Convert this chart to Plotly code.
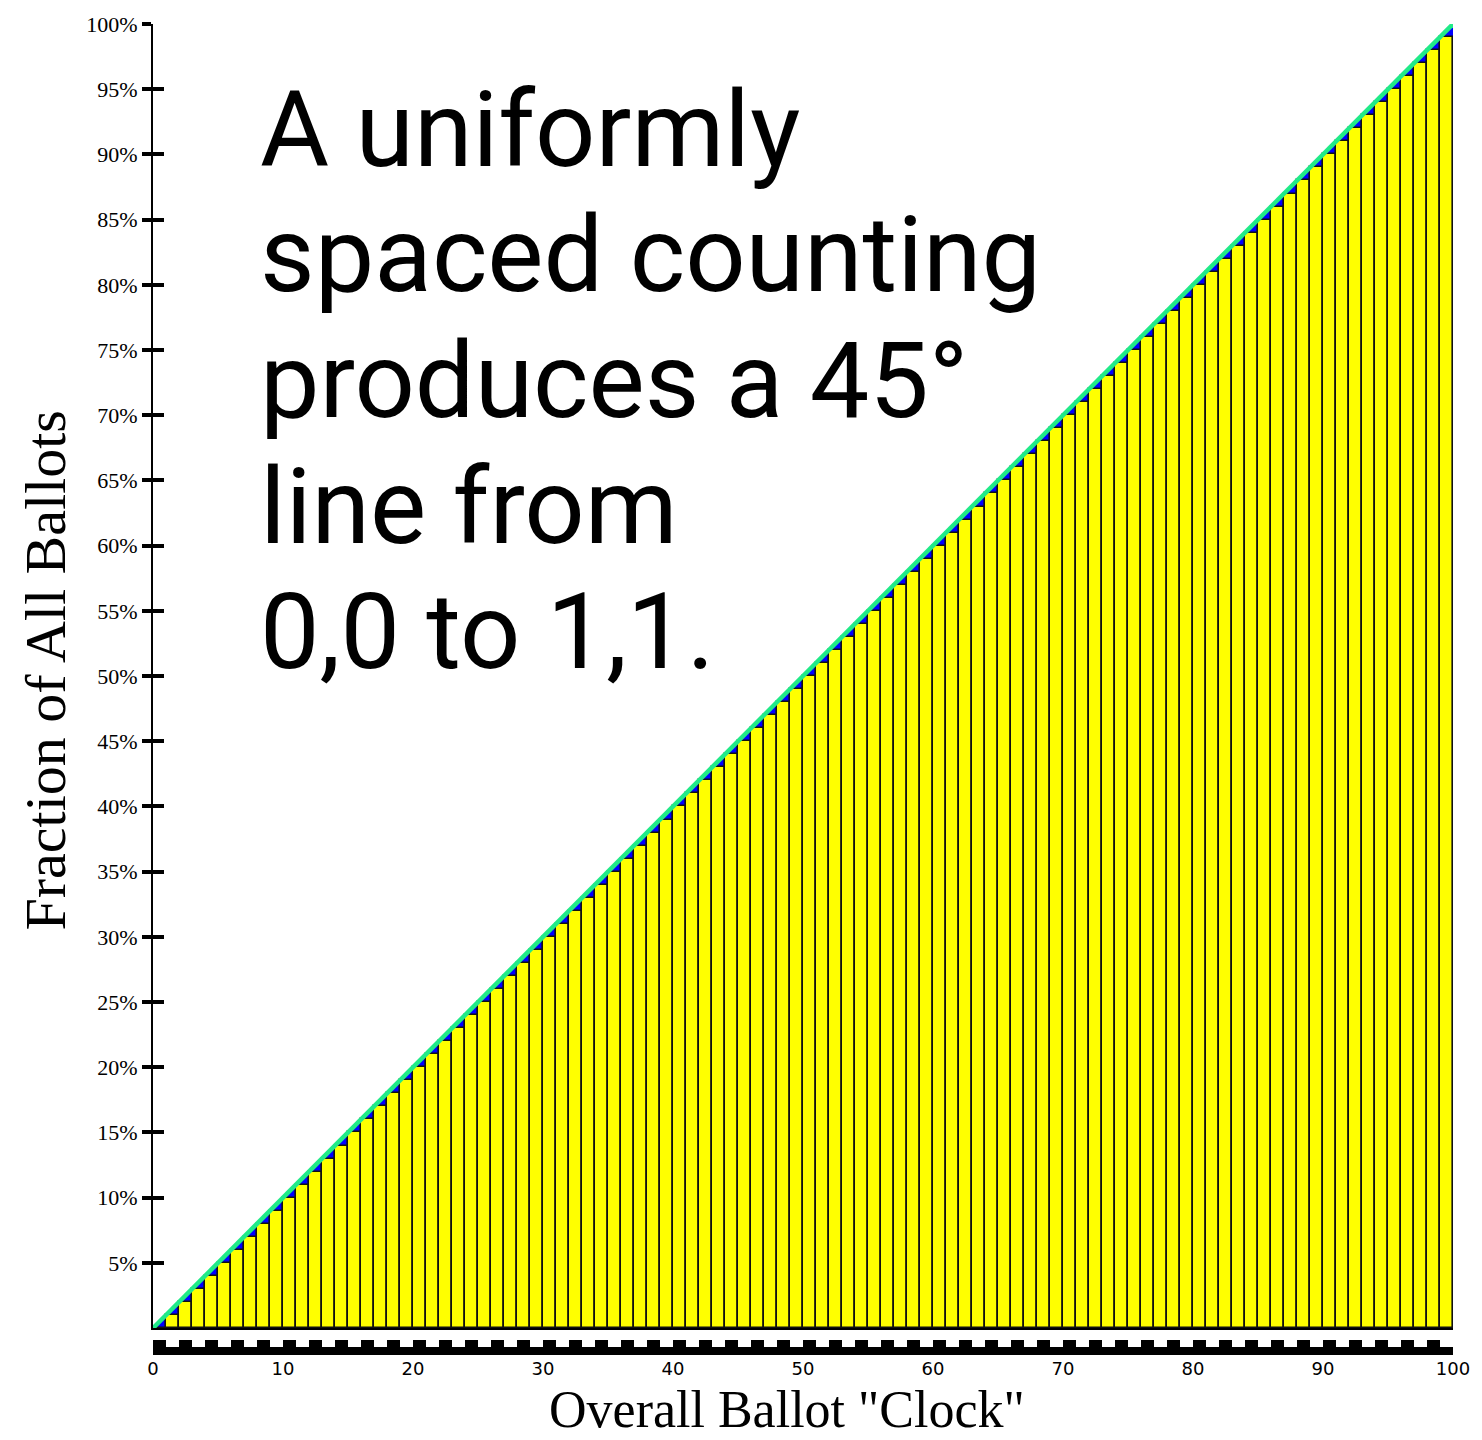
import plotly.graph_objects as go

# ---- data ----
bar_start = [0, 1, 2, 3, 4, 5, 6, 7, 8, 9, 10, 11, 12, 13, 14, 15, 16, 17, 18, 19,
             20, 21, 22, 23, 24, 25, 26, 27, 28, 29, 30, 31, 32, 33, 34, 35, 36, 37, 38, 39,
             40, 41, 42, 43, 44, 45, 46, 47, 48, 49, 50, 51, 52, 53, 54, 55, 56, 57, 58, 59,
             60, 61, 62, 63, 64, 65, 66, 67, 68, 69, 70, 71, 72, 73, 74, 75, 76, 77, 78, 79,
             80, 81, 82, 83, 84, 85, 86, 87, 88, 89, 90, 91, 92, 93, 94, 95, 96, 97, 98, 99]
bar_fraction = [0, 1, 2, 3, 4, 5, 6, 7, 8, 9, 10, 11, 12, 13, 14, 15, 16, 17, 18, 19,
                20, 21, 22, 23, 24, 25, 26, 27, 28, 29, 30, 31, 32, 33, 34, 35, 36, 37, 38, 39,
                40, 41, 42, 43, 44, 45, 46, 47, 48, 49, 50, 51, 52, 53, 54, 55, 56, 57, 58, 59,
                60, 61, 62, 63, 64, 65, 66, 67, 68, 69, 70, 71, 72, 73, 74, 75, 76, 77, 78, 79,
                80, 81, 82, 83, 84, 85, 86, 87, 88, 89, 90, 91, 92, 93, 94, 95, 96, 97, 98, 99]
line_clock = [0, 100]
line_fraction = [0, 100]

y_tick_vals = [5, 10, 15, 20, 25, 30, 35, 40, 45, 50, 55, 60, 65, 70, 75, 80, 85, 90, 95, 100]
y_tick_text = ["5%", "10%", "15%", "20%", "25%", "30%", "35%", "40%", "45%", "50%",
               "55%", "60%", "65%", "70%", "75%", "80%", "85%", "90%", "95%", "100%"]
x_tick_vals = [0, 10, 20, 30, 40, 50, 60, 70, 80, 90, 100]
x_tick_text = ["0", "10", "20", "30", "40", "50", "60", "70", "80", "90", "100"]

text_lines = ["A uniformly", "spaced counting", "produces a 45°", "line from", "0,0 to 1,1."]

# ---- layout geometry ----
W, H = 1482, 1440
ML, MR, MT, MB = 153, 24, 20, 80
plot_h = H - MT - MB
plot_w = W - ML - MR
y_dom0 = (H - MB - 1328) / plot_h


def py(pix):
    return (H - MB - pix) / plot_h


def px(pix):
    return (pix - ML) / plot_w


fig = go.Figure()

# blue region under the cumulative line (base subplot)
fig.add_trace(go.Scatter(x=line_clock, y=line_fraction, mode="lines",
                         line=dict(width=0, color="#0000ff"),
                         fill="tozeroy", fillcolor="#0000ff",
                         xaxis="x", yaxis="y", hoverinfo="skip", showlegend=False))

# yellow bars (overlay subplot, drawn above blue fill)
fig.add_trace(go.Bar(x=bar_start, y=bar_fraction, offset=0, width=1,
                     marker=dict(color="#ffff00", line=dict(color="#111111", width=1.6)),
                     xaxis="x", yaxis="y2", showlegend=False))

# green cumulative line
fig.add_trace(go.Scatter(x=line_clock, y=line_fraction, mode="lines",
                         line=dict(color="#20ea88", width=4.5),
                         xaxis="x", yaxis="y2", showlegend=False))

# placeholder traces so the decorative clock axes get drawn
for ax in ("x2", "x3"):
    fig.add_trace(go.Scatter(x=[None], y=[None], mode="markers", xaxis=ax, yaxis="y",
                             hoverinfo="skip", showlegend=False))

serif = "Liberation Serif, Times New Roman, serif"

fig.update_layout(
    width=W, height=H,
    margin=dict(l=ML, r=MR, t=MT, b=MB),
    paper_bgcolor="white", plot_bgcolor="white",
    bargap=0,
    showlegend=False,
    xaxis=dict(range=[0, 100], domain=[0, 1], anchor="y",
               showgrid=False, zeroline=False, showline=True, linecolor="black", linewidth=2,
               ticks="", showticklabels=False, fixedrange=True),
    yaxis=dict(range=[0, 100], domain=[y_dom0, 1], anchor="x",
               showgrid=False, zeroline=False, showline=True, linecolor="black", linewidth=2,
               tickmode="array", tickvals=y_tick_vals, ticktext=y_tick_text,
               ticks="outside", ticklen=9, tickwidth=4, tickcolor="black",
               tickfont=dict(family=serif, size=22, color="black")),
    yaxis2=dict(range=[0, 100], overlaying="y", anchor="x", side="left",
                showgrid=False, zeroline=False, showline=False,
                tickmode="array", tickvals=y_tick_vals,
                ticks="inside", ticklen=11, tickwidth=4, tickcolor="black",
                showticklabels=False),
    xaxis2=dict(range=[0, 100], overlaying="x", anchor="free", position=py(1351), side="bottom",
                showgrid=False, zeroline=False, showline=True, linecolor="black", linewidth=8,
                tickmode="array", tickvals=[v + 0.5 for v in bar_start[::2]],
                ticks="inside", ticklen=7, tickwidth=13, tickcolor="black",
                showticklabels=False),
    xaxis3=dict(range=[0, 100], overlaying="x", anchor="free", position=py(1356), side="bottom",
                showgrid=False, zeroline=False, showline=False, ticks="",
                tickmode="array", tickvals=x_tick_vals, ticktext=x_tick_text,
                tickfont=dict(family="DejaVu Sans, Verdana, sans-serif", size=18, color="black")),
)

annotations = [
    dict(text='Overall Ballot "Clock"', xref="paper", yref="paper",
         x=px(789), y=py(1410), xanchor="center", yanchor="middle", showarrow=False,
         font=dict(family=serif, size=52, color="black")),
    dict(text="Fraction of All Ballots", xref="paper", yref="paper",
         x=px(45), y=py(668), xanchor="center", yanchor="middle", textangle=-90, showarrow=False,
         font=dict(family=serif, size=58, color="black")),
]
first_center = 126
line_step = 126
for i, t in enumerate(text_lines):
    annotations.append(dict(text=t, xref="paper", yref="paper",
                            x=px(258), y=py(first_center + i * line_step),
                            xanchor="left", yanchor="middle", showarrow=False,
                            font=dict(family="Roboto, sans-serif", size=106, color="black")))
fig.update_layout(annotations=annotations)

fig.write_html("out.html", config={"displayModeBar": False},
               post_script="document.body.style.margin='0';document.body.style.padding='0';")
